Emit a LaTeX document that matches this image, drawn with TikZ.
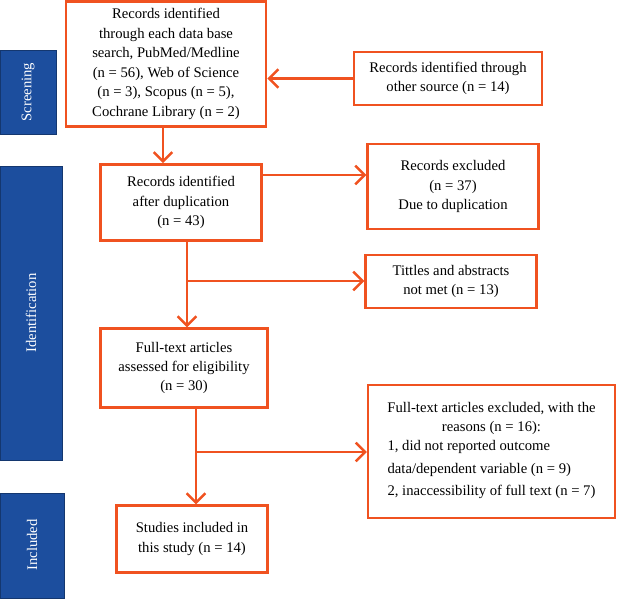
\documentclass[tikz,border=0pt]{standalone}
\usepackage{fontspec}
\setmainfont{Liberation Serif}
\usetikzlibrary{arrows.meta}
\definecolor{flowOrange}{RGB}{240,82,32}
\definecolor{stageBlue}{RGB}{28,78,158}
\tikzset{
  box/.style={draw=flowOrange, line width=1.9pt, align=center, inner sep=2pt,
    font=\fontsize{11}{14.6}\selectfont},
  stage/.style={fill=stageBlue, draw=stageBlue!70!black, line width=0.5pt,
    text=white, font=\fontsize{11}{13}\selectfont},
  flow/.style={draw=flowOrange, line width=1.9pt},
  flowarrow/.style={flow, -{Straight Barb[length=7pt,width=14pt,line width=1.9pt]}}
}
\begin{document}
\begin{tikzpicture}[x=0.75pt,y=0.75pt,yscale=-1,xscale=1]
\useasboundingbox (0,0) rectangle (617,599);

% Stage bars
\draw [stage] (0,50) rectangle (56,134);
\node [rotate=90, text=white, font=\fontsize{11}{13}\selectfont] (screening) at (28,92) {Screening};
\draw [stage] (0,166) rectangle (62,460);
\node [rotate=90, text=white, font=\fontsize{11}{13}\selectfont] (identification) at (31,313) {Identification};
\draw [stage] (0,493) rectangle (64,598);
\node [rotate=90, text=white, font=\fontsize{11}{13}\selectfont] (included) at (32,545) {Included};

% Boxes
\node [box, minimum width=150pt, minimum height=94pt] (search) at (166,64) {Records identified\\through each data base\\search, PubMed/Medline\\(n = 56), Web of Science\\(n = 3), Scopus (n = 5),\\Cochrane Library (n = 2)};
\node [box, minimum width=141pt, minimum height=40pt] (other) at (448,78.5) {Records identified through\\other source (n = 14)};
\node [box, minimum width=121pt, minimum height=57pt] (afterdup) at (181,202.5) {Records identified\\after duplication\\(n = 43)};
\node [box, minimum width=128pt, minimum height=64pt] (excluded) at (453,186.5) {Records excluded\\(n = 37)\\Due to duplication};
\node [box, minimum width=128pt, minimum height=40pt] (titles) at (451,281.5) {Tittles and abstracts\\not met (n = 13)};
\node [box, minimum width=125pt, minimum height=59pt] (fulltext) at (184,368) {Full-text articles\\assessed for eligibility\\(n = 30)};
\node [box, minimum width=185pt, minimum height=100pt] (ftexcl) at (491.5,451.5) {Full-text articles excluded, with the\\reasons (n = 16):\\[1pt]
  \begin{tabular}{@{}l@{}}1, did not reported outcome\\[2pt] data/dependent variable (n = 9)\\[2pt] 2, inaccessibility of full text (n = 7)\end{tabular}};
\node [box, minimum width=113pt, minimum height=50pt] (studies) at (192,539) {Studies included in\\this study (n = 14)};

% Connectors
\coordinate (split1) at (187,281);
\coordinate (split2) at (196,452);
\draw [flowarrow] (other.west) -- (search.east |- other.west);
\draw [flowarrow] (search.south -| 163,0) -- (afterdup.north -| 163,0);
\draw [flowarrow] (afterdup.east |- 0,175) -- (excluded.west |- 0,175);
\draw [flowarrow] (afterdup.south -| split1) -- (fulltext.north -| split1);
\draw [flowarrow] (split1) -- (titles.west |- split1);
\draw [flowarrow] (fulltext.south -| split2) -- (studies.north -| split2);
\draw [flowarrow] (split2) -- (ftexcl.west |- split2);

\end{tikzpicture}
\end{document}
